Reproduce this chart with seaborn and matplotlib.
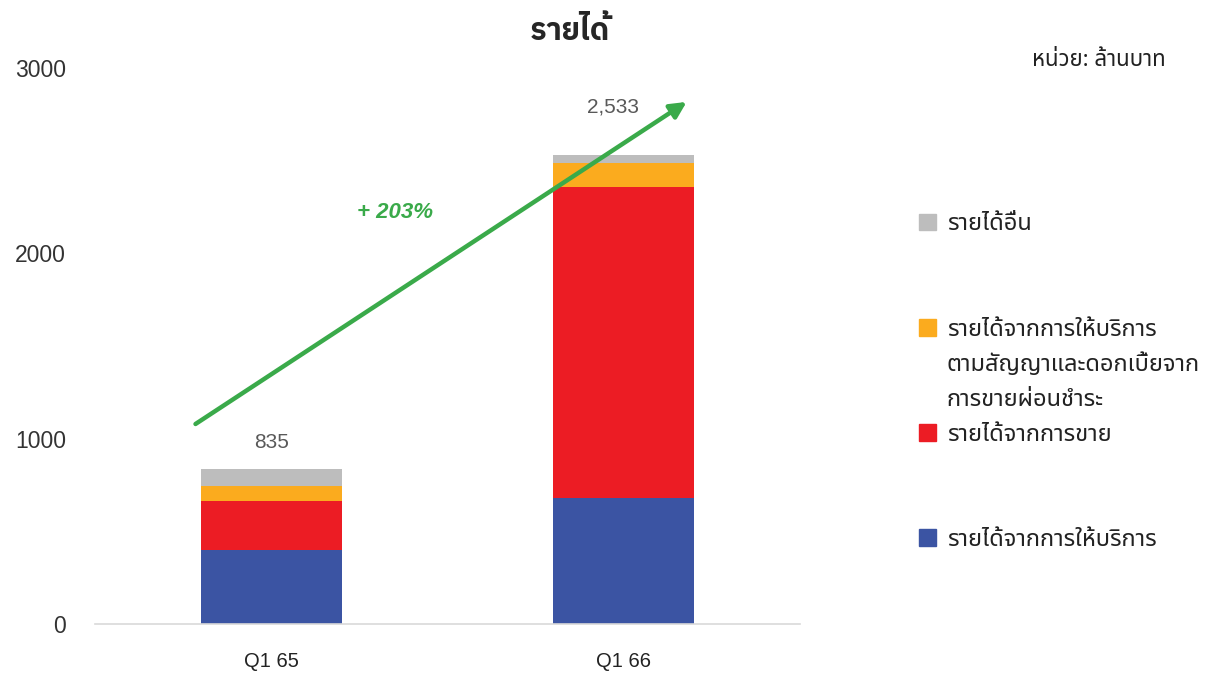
import matplotlib
matplotlib.use("Agg")
import matplotlib.pyplot as plt
from matplotlib.patches import Patch
import seaborn as sns

# data (million baht)
quarters = ["Q1 65", "Q1 66"]
service_rev = [400, 680]      # รายได้จากการให้บริการ
sales_rev = [265, 1676]       # รายได้จากการขาย
hp_rev = [80, 132]            # รายได้จากการให้บริการตามสัญญาฯ
other_rev = [90, 45]          # รายได้อื่น

layer_names = ["รายได้จากการให้บริการ", "รายได้จากการขาย",
               "รายได้จากการให้บริการ\nตามสัญญาและดอกเบี้ยจาก\nการขายผ่อนชำระ", "รายได้อื่น"]
layer_colors = ["#3b54a3", "#ec1c24", "#fbab1e", "#bdbdbd"]

sns.set_theme(style="white")
plt.rcParams['font.family'] = ['Liberation Sans', 'Noto Sans Thai', 'DejaVu Sans']
thai = ['Noto Sans Thai', 'Liberation Sans']

fig = plt.figure(figsize=(12.18, 6.75), dpi=100)
ax = fig.add_axes([0.078, 0.0756, 0.579, 0.8237])

layers = [service_rev, sales_rev, hp_rev, other_rev]
cum = []
run = [0, 0]
for vals in layers:
    run = [a + b for a, b in zip(run, vals)]
    cum.append(run)

# draw from the full stack down so each layer shows its own band
for i in range(len(layers) - 1, -1, -1):
    sns.barplot(x=quarters, y=cum[i], color=layer_colors[i], saturation=1,
                width=0.4, linewidth=0, edgecolor="none", ax=ax)

totals = cum[-1]
label_dy = [95, 205]
label_dx = [0, -0.03]
for i, t in enumerate(totals):
    ax.text(i + label_dx[i], t + label_dy[i], f"{t:,}", ha="center", va="bottom",
            fontsize=15, color="#595959")

ax.set_xlim(-0.5, 1.5)
ax.set_ylim(0, 3000)
ax.set_yticks([0, 1000, 2000, 3000])
ax.tick_params(axis="y", length=0, pad=21, labelsize=16.5, labelcolor="#333333")
ax.tick_params(axis="x", length=0, pad=20, labelsize=14.5, labelcolor="#222222")
ax.set_xlabel("")
ax.set_ylabel("")
for s in ["left", "right", "top"]:
    ax.spines[s].set_visible(False)
ax.spines["bottom"].set_color("#d9d9d9")
ax.spines["bottom"].set_linewidth(1.2)

# growth arrow
growth = (totals[1] / totals[0] - 1) * 100
ax.annotate("", xy=(1.178, 2817), xytext=(-0.215, 1079),
            arrowprops=dict(arrowstyle="-|>,head_length=0.8,head_width=0.4",
                            color="#3aaa4a", lw=3.2, shrinkA=0, shrinkB=0))
ax.text(0.35, 2220, f"+ {growth:.0f}%", ha="center", va="center", fontsize=16,
        color="#3aaa4a", fontweight="bold", fontstyle="italic")

fig.text(0.468, 0.954, "รายได้", ha="center", va="center", fontsize=22,
         fontweight="bold", fontstyle="italic",
         family=['IBM Plex Sans Thai', 'Noto Sans Thai'])
fig.text(0.957, 0.91, "หน่วย: ล้านบาท", ha="right", va="center", fontsize=16,
         family=thai, color="#222222")

# legend: blank rows keep the spacing of the original
blank = Patch(facecolor="none", edgecolor="none")
hp_lines = layer_names[2].split("\n")
handles = [Patch(color=layer_colors[3]), blank, blank,
           Patch(color=layer_colors[2]), blank, blank,
           Patch(color=layer_colors[1]), blank, blank,
           Patch(color=layer_colors[0])]
labels = [layer_names[3], " ", " ", hp_lines[0], hp_lines[1], hp_lines[2],
          layer_names[1], " ", " ", layer_names[0]]
leg = fig.legend(handles, labels, loc="upper left", bbox_to_anchor=(0.745, 0.703),
                 frameon=False, borderpad=0, handlelength=0.72, handleheight=0.72,
                 handletextpad=0.45, labelspacing=0.47,
                 prop={"family": thai, "size": 17})
for t in leg.get_texts():
    t.set_color("#222222")

fig.savefig("out.png", dpi=100)
